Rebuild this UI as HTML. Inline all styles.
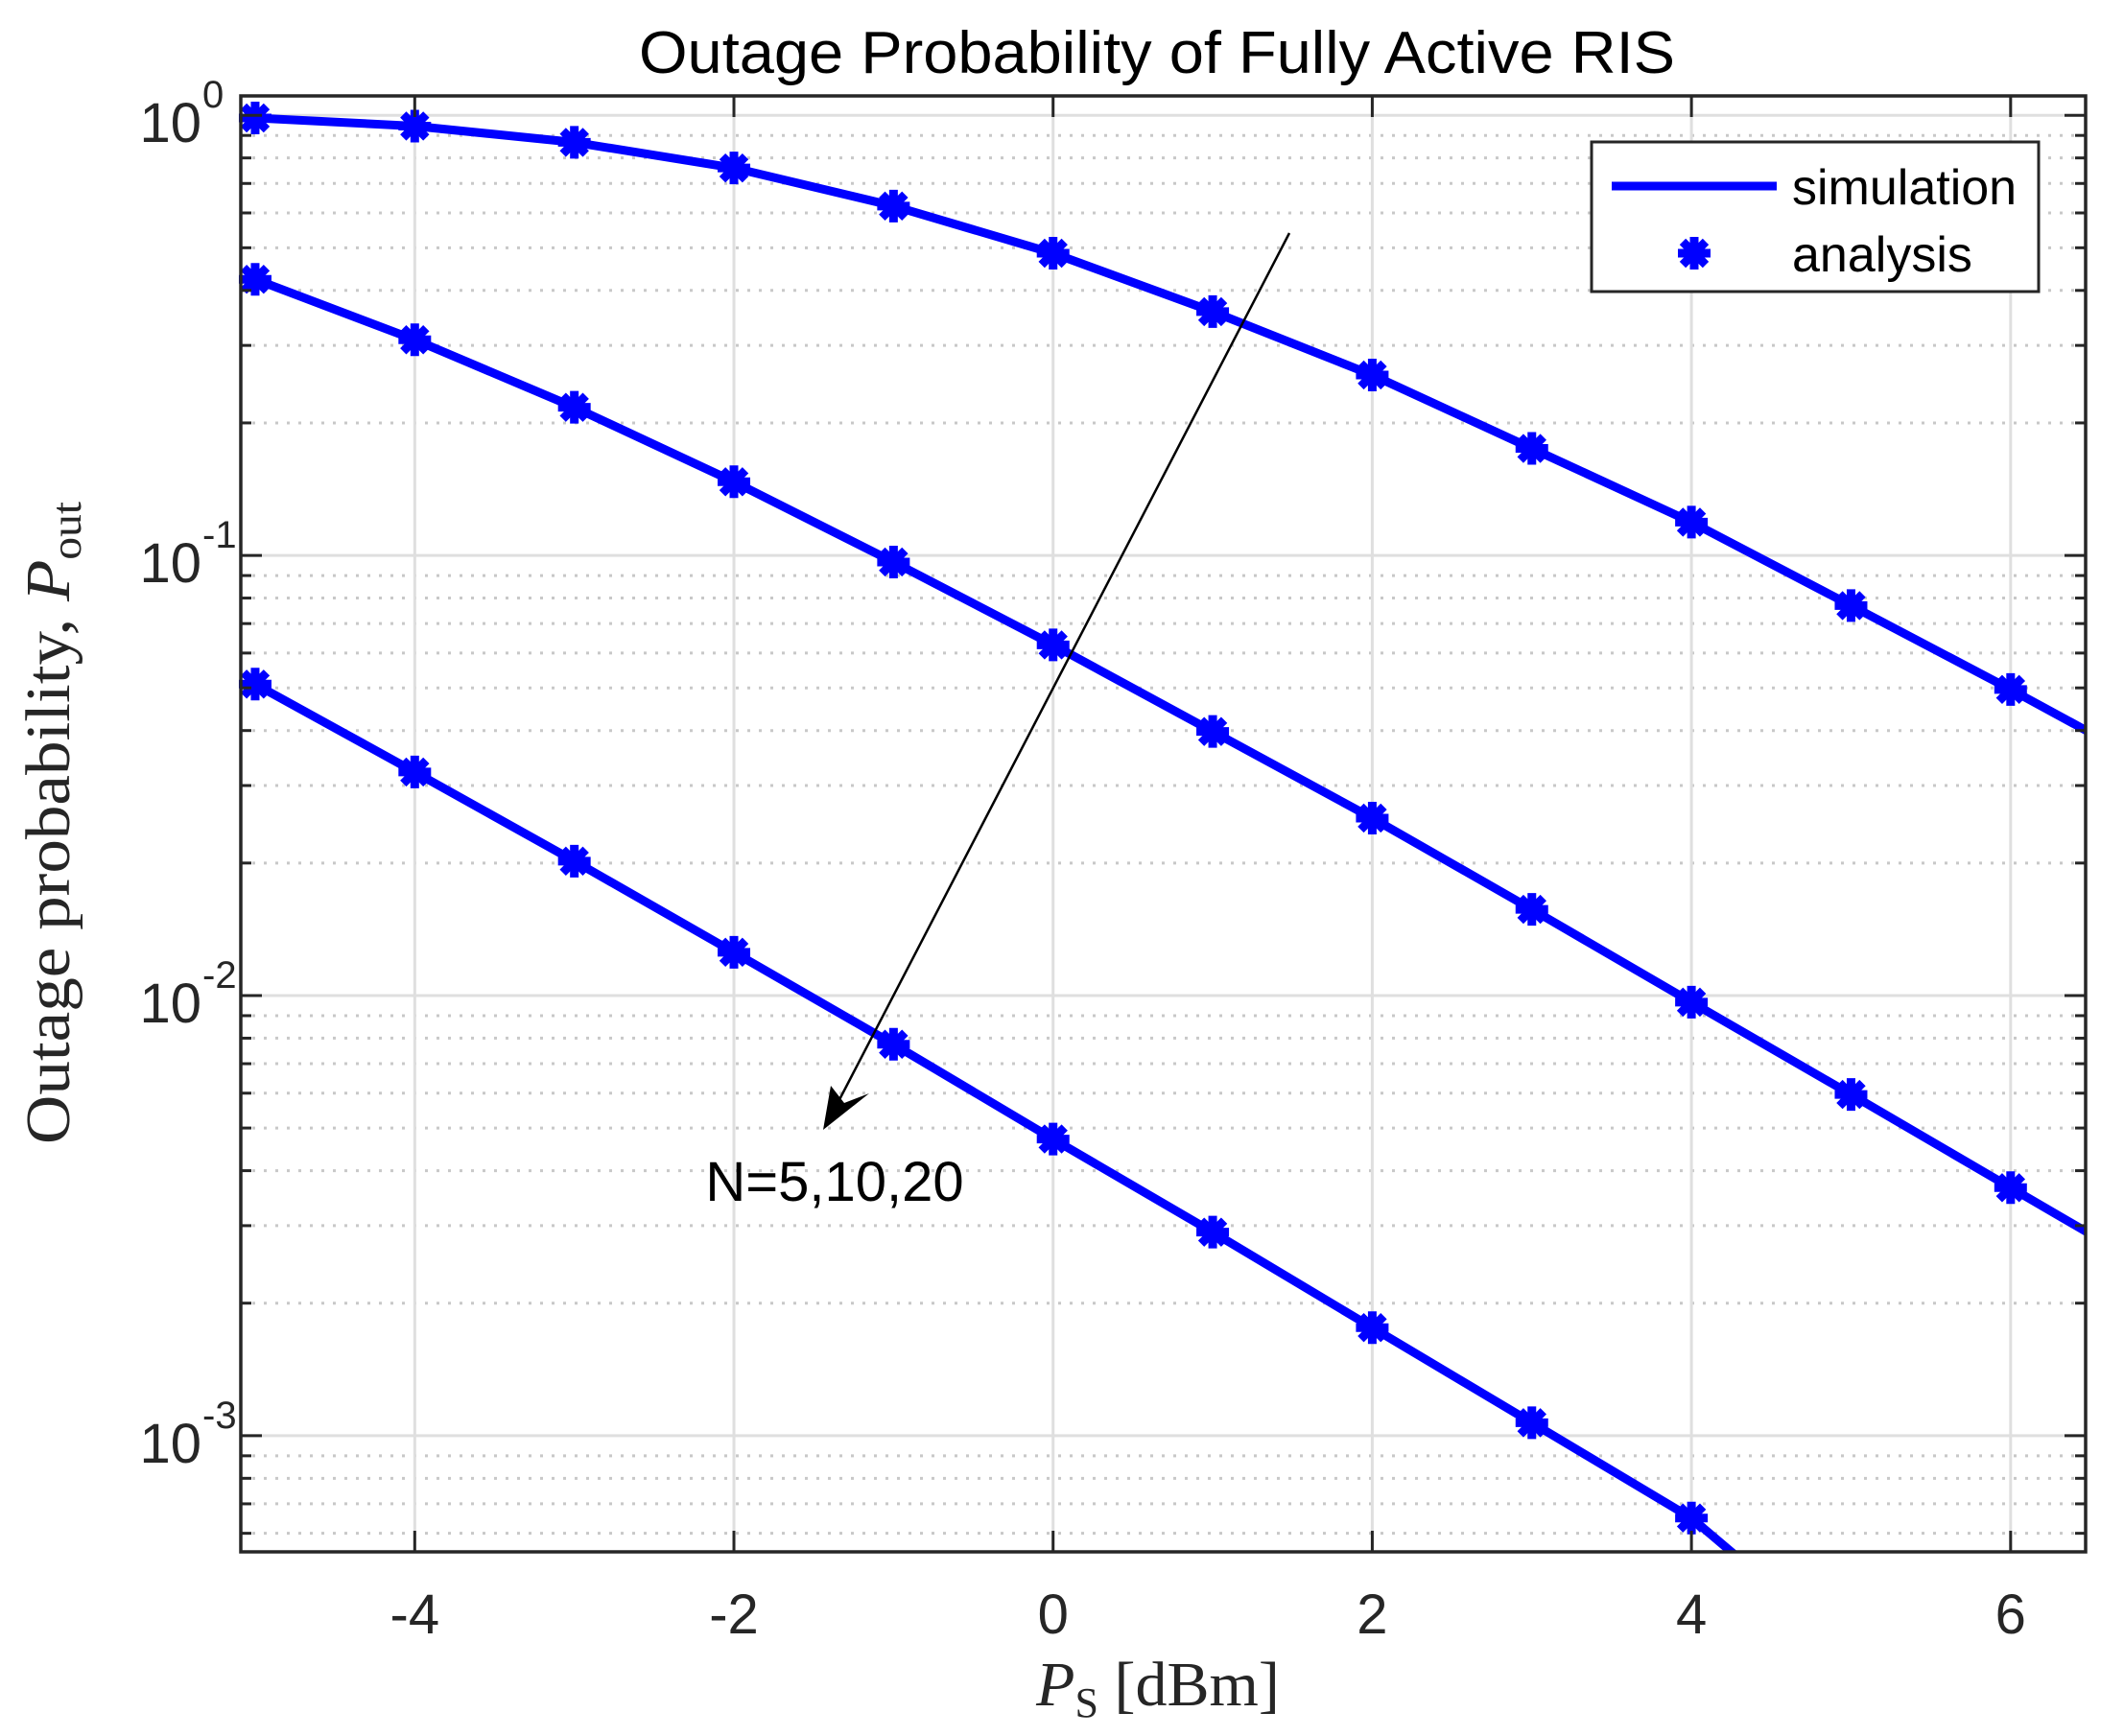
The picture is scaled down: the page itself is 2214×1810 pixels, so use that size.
<!DOCTYPE html>
<html><head><meta charset="utf-8"><style>
html,body{margin:0;padding:0;background:#fff;overflow:hidden;width:2214px;height:1810px;}
svg{display:block;}
text{font-family:"Liberation Sans",sans-serif;fill:#262626;}
</style></head><body>
<svg id="chart" width="2214" height="1810" viewBox="0 0 2214 1810" xmlns="http://www.w3.org/2000/svg">
<rect x="0" y="0" width="2214" height="1810" fill="#fff"/>
<g id="grid"></g>
<g id="series"></g>
<g id="axes"></g>
<text x="1206" y="76" font-size="62" text-anchor="middle" textLength="1080" lengthAdjust="spacingAndGlyphs" style="fill:#000">Outage Probability of Fully Active RIS</text>
<text transform="translate(72,858) rotate(-90)" text-anchor="middle" font-size="66" textLength="670" lengthAdjust="spacingAndGlyphs" style="font-family:'Liberation Serif','DejaVu Serif',serif;fill:#262626">Outage probability, <tspan font-style="italic">P</tspan><tspan font-size="44" dy="12">out</tspan></text>
<text x="1207" y="1778" text-anchor="middle" font-size="66" style="font-family:'Liberation Serif','DejaVu Serif',serif;fill:#262626"><tspan font-style="italic">P</tspan><tspan font-size="44" dy="12">S</tspan><tspan dy="-12"> [dBm]</tspan></text>
<g>
<line x1="1344" y1="243" x2="868" y2="1160" stroke="#000" stroke-width="2.5"/>
<polygon points="858,1178 866,1132 880,1150 906,1140" fill="#000"/>
</g>
<text x="870" y="1252" font-size="58" text-anchor="middle" style="fill:#000">N=5,10,20</text>
<g>
<rect x="1659" y="148" width="466" height="156" fill="#fff" stroke="#262626" stroke-width="3"/>
<line x1="1680" y1="194" x2="1852" y2="194" stroke="#0000ff" stroke-width="9"/>
<text x="1868" y="213" font-size="52" style="fill:#000">simulation</text>
<g id="legmark"></g>
<text x="1868" y="283" font-size="52" style="fill:#000">analysis</text>
</g>
</svg>
<script>
const xValues = [-5,-4,-3,-2,-1,0,1,2,3,4,5,6,7];
const seriesN5 = [0.986,0.945,0.868,0.759,0.622,0.486,0.358,0.257,0.175,0.119,0.0769,0.0496,0.0315];
const seriesN10 = [0.424,0.309,0.217,0.147,0.0966,0.0626,0.0398,0.0253,0.0157,0.00966,0.00596,0.00366,0.00225];
const seriesN20 = [0.051,0.0322,0.0202,0.01254,0.00775,0.00472,0.0029,0.00176,0.00107,0.00065,0.00032,0.00016,0.00008];
const markerX = [-5,-4,-3,-2,-1,0,1,2,3,4,5,6];
const xTicks = [-4,-2,0,2,4,6];
const yDecades = [0,-1,-2,-3];

const NS="http://www.w3.org/2000/svg";
const L=251,R=2174,T=100,B=1618;
const xMin=-5.09,xMax=6.47, yTop=0.044, yBot=-3.264;
const xs=v=>L+(v-xMin)/(xMax-xMin)*(R-L);
const ys=v=>T+(yTop-Math.log10(v))/(yTop-yBot)*(B-T);
function mk(tag,attrs,parent){const e=document.createElementNS(NS,tag);for(const k in attrs)e.setAttribute(k,attrs[k]);parent.appendChild(e);return e;}
const grid=document.getElementById('grid'),axes=document.getElementById('axes'),series=document.getElementById('series');

yDecades.forEach(d=>{for(let m=2;m<=9;m++){const v=m*Math.pow(10,d-1);const y=ys(v);if(y<T||y>B)continue;
 const g=mk('line',{x1:L,x2:R,y1:y,y2:y,stroke:'#c8c8c8','stroke-width':3,'stroke-dasharray':'3 9'},grid);
 
 
 mk('line',{x1:L,x2:L+11,y1:y,y2:y,stroke:'#262626','stroke-width':3},axes);
 mk('line',{x1:R-11,x2:R,y1:y,y2:y,stroke:'#262626','stroke-width':3},axes);
}});
yDecades.forEach(d=>{const y=ys(Math.pow(10,d));
 const g=mk('line',{x1:L,x2:R,y1:y,y2:y,stroke:'#dfdfdf','stroke-width':3},grid);
 
 
 mk('line',{x1:L,x2:L+22,y1:y,y2:y,stroke:'#262626','stroke-width':3},axes);
 mk('line',{x1:R-22,x2:R,y1:y,y2:y,stroke:'#262626','stroke-width':3},axes);
 const t=mk('text',{x:210,y:y+28,'font-size':58,'text-anchor':'end'},axes);
 
 
 t.textContent='10';
 const s=mk('text',{x:211,y:y-8,'font-size':40,'text-anchor':'start'},axes);
 
 
 s.textContent=d===0?'0':String(d);
});
xTicks.forEach(v=>{const x=xs(v);
 const g=mk('line',{x1:x,x2:x,y1:T,y2:B,stroke:'#dfdfdf','stroke-width':3},grid);
 
 
 mk('line',{x1:x,x2:x,y1:B-22,y2:B,stroke:'#262626','stroke-width':3},axes);
 mk('line',{x1:x,x2:x,y1:T,y2:T+22,stroke:'#262626','stroke-width':3},axes);
 const t=mk('text',{x:x,y:1703,'font-size':58,'text-anchor':'middle'},axes);
 
 
 t.textContent=String(v);
});
const frame=mk('rect',{x:L,y:T,width:R-L,height:B-T,fill:'none',stroke:'#262626','stroke-width':3.5},axes);



const defs=mk('defs',{},series);
const cp=mk('clipPath',{id:'clip'},defs);
mk('rect',{x:L,y:T,width:R-L,height:B-T},cp);

function marker(parent,x,y){const g=mk('g',{},parent);
 
 
 const r=17;
 for(let a=0;a<4;a++){const th=a*Math.PI/4;
  mk('line',{x1:x-r*Math.cos(th),y1:y-r*Math.sin(th),x2:x+r*Math.cos(th),y2:y+r*Math.sin(th),stroke:'#0000ff','stroke-width':9},g);}
 mk('circle',{cx:x,cy:y,r:11,fill:'#0000ff'},g);
}
[['n5',seriesN5],['n10',seriesN10],['n20',seriesN20]].forEach(([nm,vals])=>{
 const pts=xValues.map((x,i)=>xs(x).toFixed(1)+','+ys(vals[i]).toFixed(1)).join(' ');
 const pl=mk('polyline',{points:pts,fill:'none',stroke:'#0000ff','stroke-width':9,'clip-path':'url(#clip)','stroke-linejoin':'round'},series);
 
 
 markerX.forEach(mx=>{const i=xValues.indexOf(mx);const y=ys(vals[i]);if(y>B)return;marker(series,xs(mx),y);});
});
marker(document.getElementById('legmark'),1766,264);
</script>
</body></html>
